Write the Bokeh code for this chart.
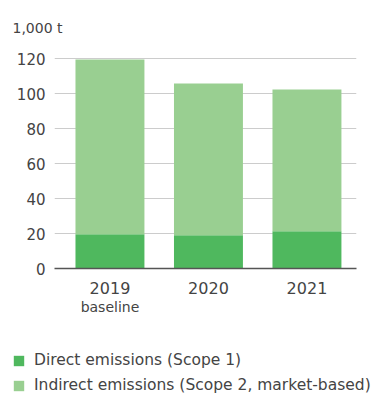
from bokeh.plotting import figure
from bokeh.models import ColumnDataSource, Range1d, FixedTicker, Legend, LegendItem, LinearAxis
from bokeh.layouts import column
from bokeh.embed import file_html
from bokeh.resources import INLINE

years = ["2019", "2020", "2021"]
year_notes = {0: "baseline"}
direct = [19.6, 19.0, 21.3]
indirect_total = [119.5, 105.7, 102.3]
indirect = [t - d for t, d in zip(indirect_total, direct)]
y_ticks = [0, 20, 40, 60, 80, 100, 120]
series_names = ["Direct emissions (Scope 1)", "Indirect emissions (Scope 2, market-based)"]

DIRECT_C = "#4fb85e"
INDIRECT_C = "#99cf91"
TEXT_C = "#444444"
FONT = "DejaVu Sans"

xs = list(range(len(years)))
src = ColumnDataSource(dict(x=xs, direct=direct, indirect=indirect,
                            top=indirect_total))

p = figure(width=380, height=330, output_backend="svg", toolbar_location=None,
           x_range=Range1d(-0.563, 2.503), y_range=Range1d(0, 124.6),
           min_border_left=54, min_border_right=24, min_border_top=50,
           min_border_bottom=62)
p.outline_line_color = None
p.background_fill_color = "white"
p.border_fill_color = "white"
p.frame_align = False

r1 = p.vbar(x="x", bottom=0, top="direct", width=0.70, source=src,
            color=DIRECT_C, line_color=None)
r2 = p.vbar(x="x", bottom="direct", top="top", width=0.70, source=src,
            color=INDIRECT_C, line_color=None)

p.xgrid.grid_line_color = None
p.ygrid.grid_line_color = "#cccccc"
p.ygrid.grid_line_width = 1.2
p.yaxis.ticker = FixedTicker(ticks=y_ticks)
p.xaxis.ticker = FixedTicker(ticks=xs)
p.xaxis.major_label_overrides = {i: y for i, y in enumerate(years)}

note_axis = LinearAxis(ticker=FixedTicker(ticks=list(year_notes.keys())),
                       major_label_overrides=year_notes)
p.add_layout(note_axis, "below")

for ax in (p.xaxis[0], p.yaxis[0], note_axis):
    ax.major_tick_line_color = None
    ax.minor_tick_line_color = None
    ax.major_tick_out = 0
    ax.major_tick_in = 0
    ax.minor_tick_out = 0
    ax.major_label_text_font = FONT
    ax.major_label_text_color = TEXT_C
p.yaxis.major_label_text_font_size = "15px"
p.yaxis.axis_line_color = None
p.yaxis.major_label_standoff = 9
p.xaxis[0].major_label_text_font_size = "16px"
p.xaxis[0].axis_line_color = "#555555"
p.xaxis[0].axis_line_width = 1.5
p.xaxis[0].major_label_standoff = 13
note_axis.major_label_text_font_size = "14px"
note_axis.axis_line_color = None
note_axis.major_label_standoff = 2

p.title.text = "1,000 t"
p.title.text_font = FONT
p.title.text_font_size = "14px"
p.title.text_font_style = "normal"
p.title.text_color = TEXT_C
p.title.align = "left"
p.title.offset = -42
p.title.standoff = 30

# legend figure
lg = figure(width=380, height=74, output_backend="svg", toolbar_location=None,
            x_axis_type=None, y_axis_type=None, x_range=Range1d(0, 1), y_range=Range1d(0, 1),
            min_border=0)
lg.outline_line_color = None
lg.grid.grid_line_color = None
lg.frame_align = False
hidden = ColumnDataSource(dict(x=[-10], y=[-10]))
g1 = lg.rect(x="x", y="y", width=1, height=1, source=hidden, color=DIRECT_C, line_color=None)
g2 = lg.rect(x="x", y="y", width=1, height=1, source=hidden, color=INDIRECT_C, line_color=None)

legend = Legend(items=[LegendItem(label=series_names[0], renderers=[g1]),
                       LegendItem(label=series_names[1], renderers=[g2])],
                location=(12, 10), orientation="vertical")
legend.border_line_color = None
legend.background_fill_alpha = 0
legend.margin = 0
legend.padding = 0
legend.glyph_width = 13
legend.glyph_height = 13
legend.label_text_font = FONT
legend.label_text_font_size = "15.5px"
legend.label_text_color = TEXT_C
legend.label_standoff = 9
legend.spacing = 7
lg.add_layout(legend, "center")

layout = column(p, lg, spacing=0)
open("out.html", "w").write(file_html(layout, INLINE))
